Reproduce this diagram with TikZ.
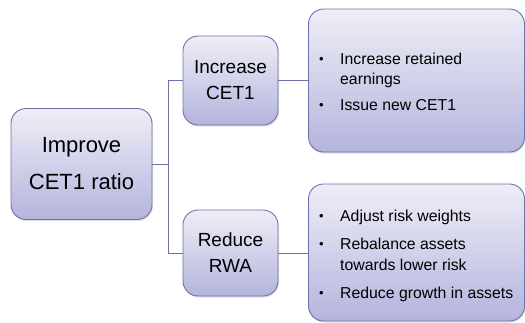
\documentclass[tikz,border=0pt]{standalone}
\usepackage{fontspec}
\setmainfont{Liberation Sans}
\usetikzlibrary{shadows}
\definecolor{boxtop}{HTML}{EEEEF7}
\definecolor{boxbot}{HTML}{B4B4DE}
\definecolor{boxline}{HTML}{7070A8}
\newcommand{\bul}{\raisebox{1pt}{\fontsize{13}{13}\selectfont\textbullet}}
\tikzset{
  box/.style={draw=boxline, line width=0.9pt, rounded corners=15pt,
    top color=boxtop, bottom color=boxbot, inner sep=0pt,
    drop shadow={shadow xshift=1pt, shadow yshift=-1.5pt, opacity=0.25, fill=gray}},
  conn/.style={draw=boxline, line width=0.8pt},
  rtext/.style={anchor=base west, inner sep=0pt, align=left},
}
\begin{document}
\begin{tikzpicture}[x=1pt,y=-1pt]
\useasboundingbox (0,0) rectangle (525,322);
% boxes
\node[box, minimum width=141pt, minimum height=111pt, align=center,
  font=\fontsize{22}{37}\selectfont] (root) at (81.5,164) {Improve\\CET1 ratio};
\node[box, minimum width=95pt, minimum height=89pt, align=center,
  font=\fontsize{19}{26}\selectfont] (inc) at (230.5,80.5) {Increase\\CET1};
\node[box, minimum width=95pt, minimum height=86pt, align=center,
  font=\fontsize{19}{26}\selectfont] (red) at (230.5,253) {Reduce\\RWA};
\node[box, minimum width=216pt, minimum height=143pt] (incd) at (416.5,80.5) {};
\node[box, minimum width=216pt, minimum height=137pt] (redd) at (416.5,252.5) {};
% texts
\node[rtext, font=\fontsize{15.8}{19.5}\selectfont] (t1) at (319,64.5) {%
\begin{tabular}[t]{@{}p{21pt}@{}l@{}}
\bul & Increase retained\\
 & earnings\\[6.5pt]
\bul & Issue new CET1
\end{tabular}};
\node[rtext, font=\fontsize{15.8}{21.5}\selectfont] (t2) at (319,221.5) {%
\begin{tabular}[t]{@{}p{21pt}@{}l@{}}
\bul & Adjust risk weights\\[6pt]
\bul & Rebalance assets\\
 & towards lower risk\\[6.5pt]
\bul & Reduce growth in assets
\end{tabular}};
% connectors
\coordinate (j) at (168,164);
\draw[conn] (root.east) -- (j);
\draw[conn] (j) |- (inc.west);
\draw[conn] (j) |- (red.west);
\draw[conn] (inc.east) -- (incd.west |- inc.east);
\draw[conn] (red.east) -- (redd.west |- red.east);
\end{tikzpicture}
\end{document}
